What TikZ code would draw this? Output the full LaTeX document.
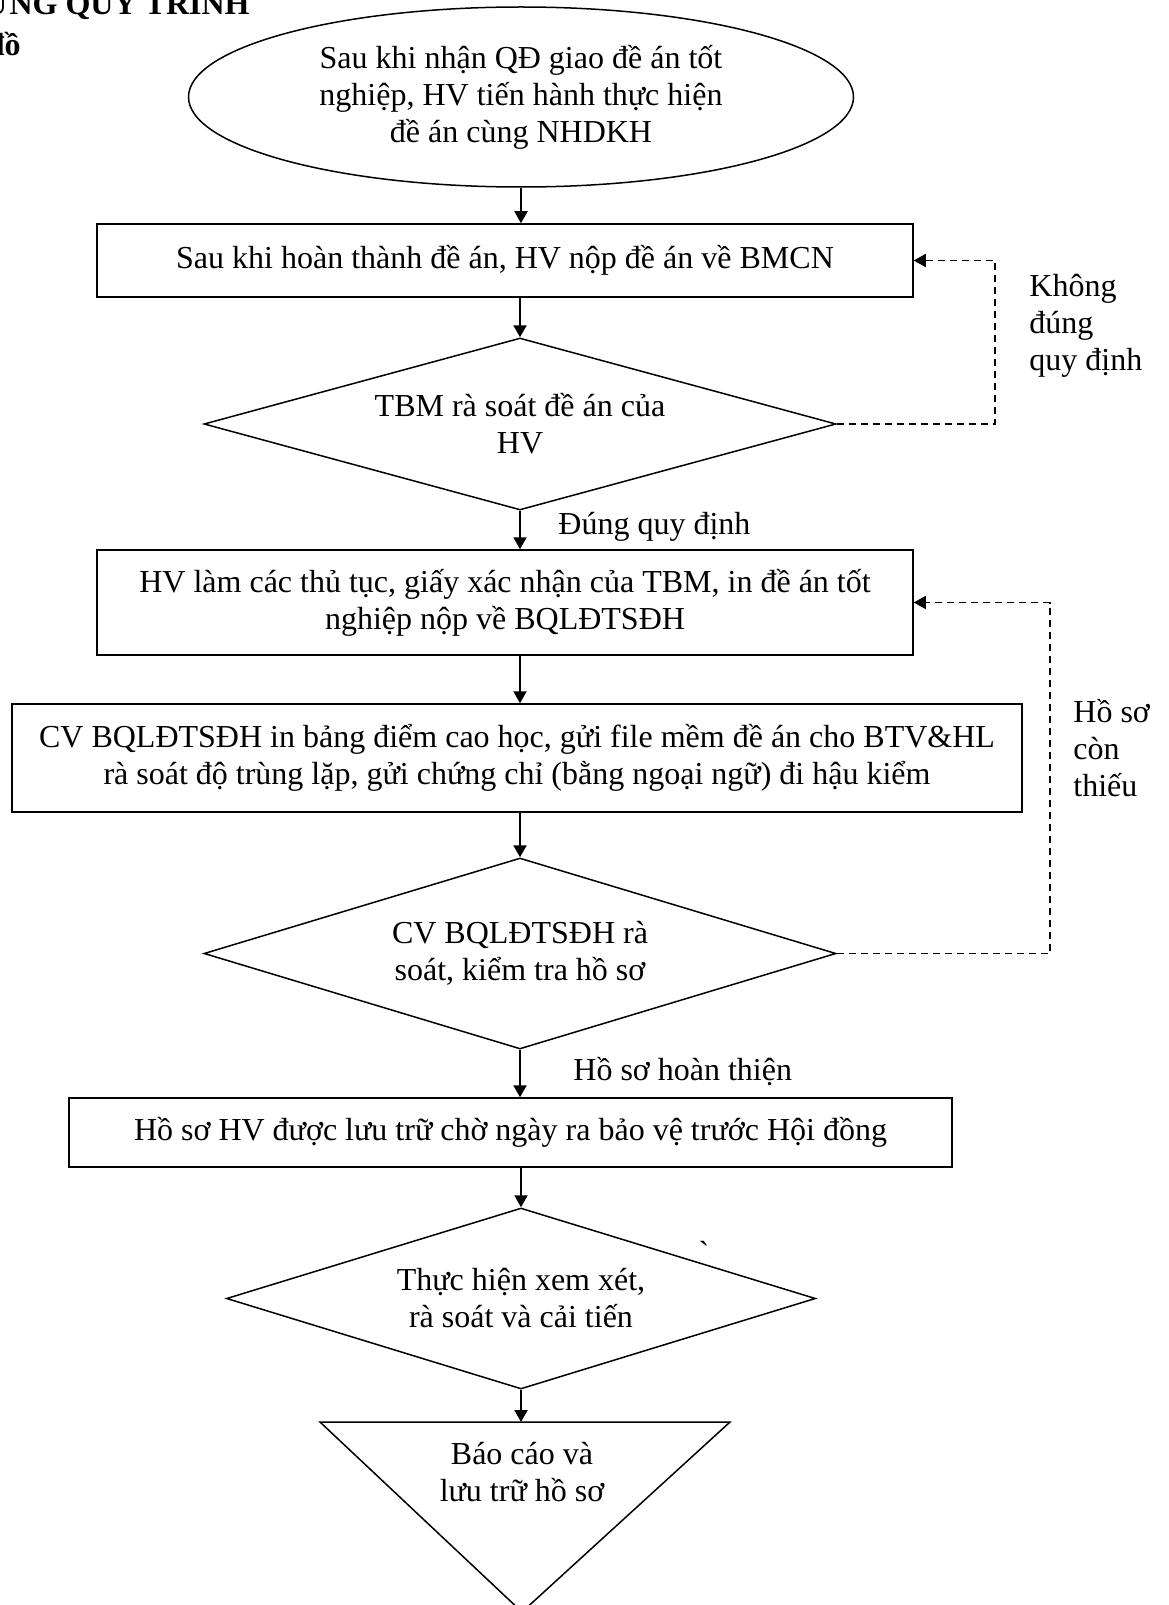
\documentclass[tikz,border=0pt]{standalone}
\usepackage{fontspec}
\setmainfont{Liberation Serif}
\usetikzlibrary{calc,shapes,shapes.geometric,positioning,arrows.meta}

\begin{document}
\begin{tikzpicture}[x=0.5pt, y=-0.5pt, >={Triangle[length=6pt,width=6.5pt]}, font=\fontsize{16}{18.5}\selectfont]
    \tikzstyle{enode} = [draw=black, line width=0.75pt, ellipse, inner sep=0pt, align=center]
    \tikzstyle{dnode} = [draw=black, line width=0.75pt, diamond, aspect=4, inner sep=0pt, align=center]
    \tikzstyle{bnode} = [draw=black, line width=0.75pt, rectangle, inner sep=2pt, align=center]
    \tikzstyle{lnode} = [align=left, anchor=west, inner sep=0pt]
    \tikzstyle{flow} = [line width=1pt, ->]
    \tikzstyle{back} = [line width=0.75pt, dash pattern=on 3.5pt off 2.5pt, ->]
    \useasboundingbox (0,0) rectangle (1168,1605);

    % title, cut by the page edge
    \node[font=\fontsize{16}{18.5}\selectfont\bfseries, anchor=base east, inner sep=0pt] (tit1) at (250,15) {ỨNG QUY TRÌNH};
    \node[font=\fontsize{16}{18.5}\selectfont\bfseries, anchor=base east, inner sep=0pt] (tit2) at (21,56) {đồ};

    % steps
    \node[enode, minimum width=332.5pt, minimum height=90pt] (start) at (521,97) {Sau khi nhận QĐ giao đề án tốt\\nghiệp, HV tiến hành thực hiện\\đề án cùng NHDKH};
    \node[bnode, minimum width=408pt, minimum height=36.5pt] (nop) at (505,260.5) {Sau khi hoàn thành đề án, HV nộp đề án về BMCN};
    \node[dnode, minimum width=316pt, minimum height=86pt] (tbm) at (520,424) {TBM rà soát đề án của\\HV};
    \node[bnode, minimum width=408pt, minimum height=52.5pt] (thutuc) at (505,602.5) {HV làm các thủ tục, giấy xác nhận của TBM, in đề án tốt\\nghiệp nộp về BQLĐTSĐH};
    \node[bnode, minimum width=505pt, minimum height=54pt] (cv) at (517,758) {CV BQLĐTSĐH in bảng điểm cao học, gửi file mềm đề án cho BTV\&HL\\rà soát độ trùng lặp, gửi chứng chỉ (bằng ngoại ngữ) đi hậu kiểm};
    \node[dnode, minimum width=316pt, minimum height=95.5pt] (kiemtra) at (520,953.5) {CV BQLĐTSĐH rà\\soát, kiểm tra hồ sơ};
    \node[bnode, minimum width=441.5pt, minimum height=34.5pt] (luutru) at (510.5,1132.5) {Hồ sơ HV được lưu trữ chờ ngày ra bảo vệ trước Hội đồng};
    \node[dnode, minimum width=294.5pt, minimum height=90.5pt] (xemxet) at (521,1298.5) {Thực hiện xem xét,\\rà soát và cải tiến};
    \node[inner sep=0pt] (mark) at (704,1252) {\textasciigrave};

    % end triangle
    \coordinate (tl) at (320,1422);
    \coordinate (tr) at (730,1422);
    \coordinate (tb) at (522,1612);
    \coordinate (ttop) at (521,1422);
    \draw[line width=0.75pt] (tl) -- (tr) -- (tb) -- cycle;
    \node[align=center] (baocao) at (522,1472) {Báo cáo và\\lưu trữ hồ sơ};

    % labels
    \node[lnode] (ldung) at (558,527) {Đúng quy định};
    \node[lnode] (lhoan) at (573,1072) {Hồ sơ hoàn thiện};
    \node[lnode] (lkhong) at (1029,326) {Không\\đúng\\quy định};
    \node[lnode] (lthieu) at (1073,748) {Hồ sơ\\còn\\thiếu};

    % main flow
    \draw[flow] (start.south) -- (start.south |- nop.north);
    \draw[flow] (tbm.north |- nop.south) -- (tbm.north);
    \draw[flow] (tbm.south) -- (tbm.south |- thutuc.north);
    \draw[flow] (tbm.south |- thutuc.south) -- (tbm.south |- cv.north);
    \draw[flow] (kiemtra.north |- cv.south) -- (kiemtra.north);
    \draw[flow] (kiemtra.south) -- (kiemtra.south |- luutru.north);
    \draw[flow] (xemxet.north |- luutru.south) -- (xemxet.north);
    \draw[flow] (xemxet.south) -- (ttop);

    % back loops
    \coordinate (k1) at (995,0);
    \coordinate (k2) at (1050,0);
    \draw[back] (tbm.east) -- (tbm.east -| k1) |- (nop.east);
    \draw[back] (kiemtra.east) -- (kiemtra.east -| k2) |- (thutuc.east);
\end{tikzpicture}
\end{document}
